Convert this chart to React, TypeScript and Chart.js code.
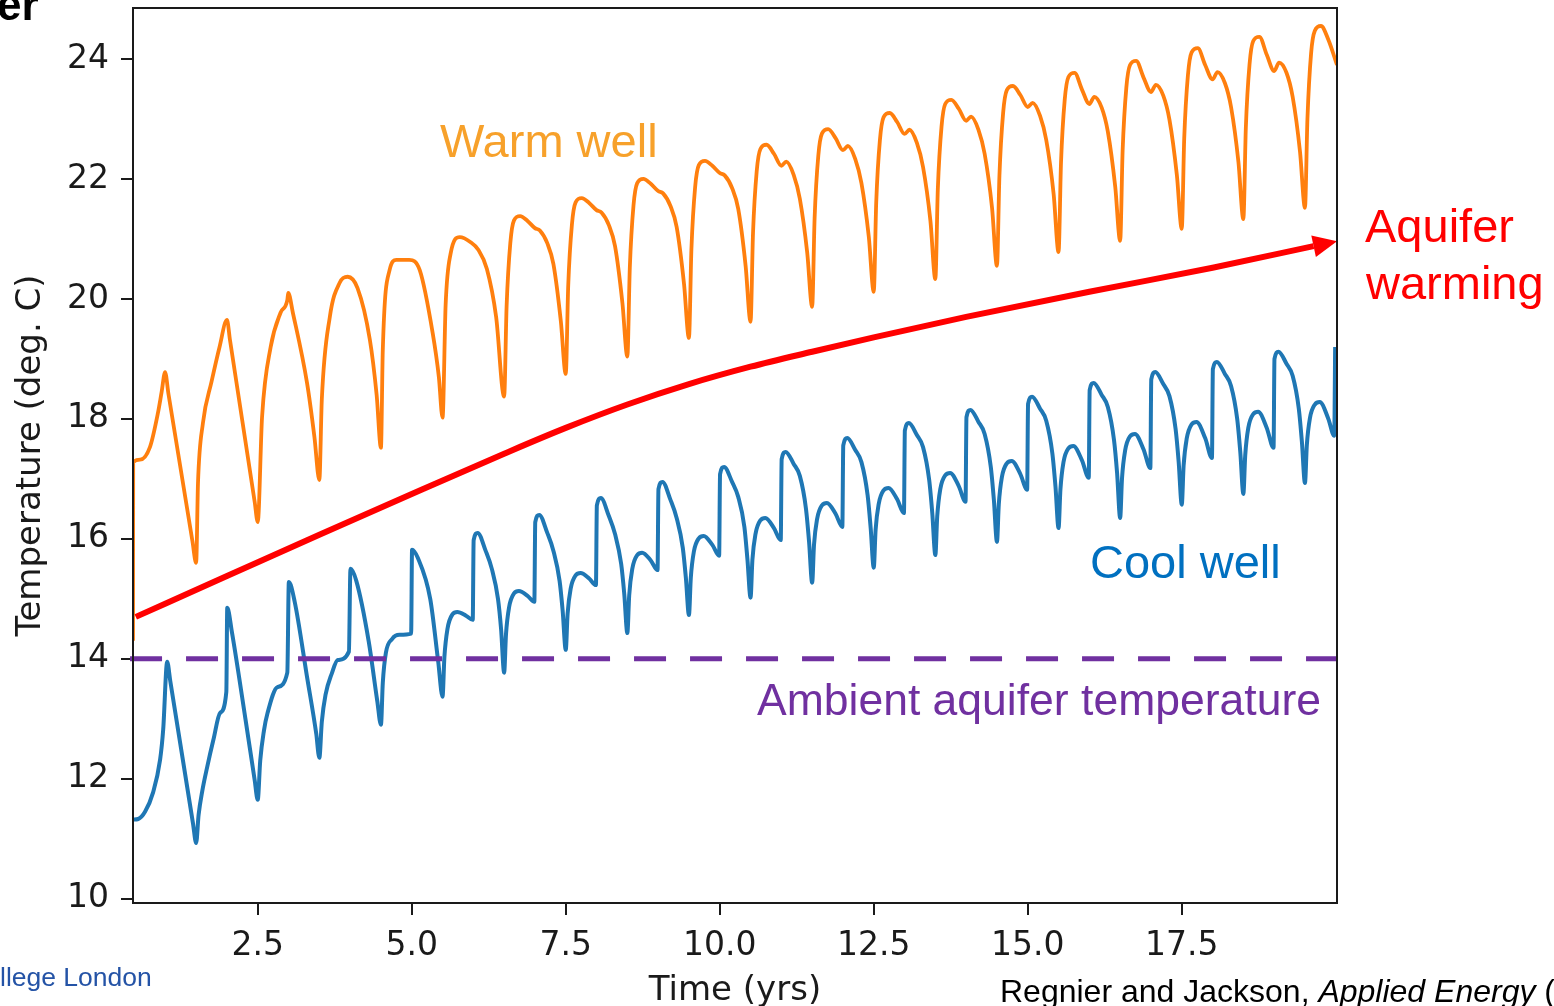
import React, { useEffect, useRef } from "react";
import { Chart, registerables } from "chart.js";

Chart.register(...registerables);

// ---------- data ----------
const xTicks = [2.5, 5, 7.5, 10, 12.5, 15, 17.5];
const yTicks = [10, 12, 14, 16, 18, 20, 22, 24];

const xTitle = "Time (yrs)";
const yTitle = "Temperature (deg. C)";

// Warm well temperature [year, deg C]
const warmWell: [number, number][] = [
  [0.475, 14.3], [0.478, 17.28], [0.59, 17.32], [0.75, 17.53], [0.88, 18.1], [0.94, 18.45], [0.996, 18.78],
  [1.05, 18.42], [1.44, 15.96], [1.5, 15.6],
  [1.53, 16.93], [1.61, 17.93], [1.75, 18.62], [1.88, 19.2], [2.0, 19.65],
  [2.05, 19.31], [2.45, 16.62], [2.5, 16.28],
  [2.57, 18.03], [2.71, 19.2], [2.87, 19.77], [2.98, 19.98], [2.995, 20.1], [3.07, 19.77], [3.3, 18.6], [3.42, 17.7], [3.5, 16.98],
  [3.54, 18.32], [3.67, 19.7], [3.83, 20.27], [3.96, 20.37], [4.12, 20.18], [4.32, 19.32], [4.43, 18.4], [4.5, 17.52],
  [4.53, 19.15], [4.64, 20.48], [4.75, 20.65], [4.96, 20.65], [5.13, 20.48], [5.34, 19.43], [5.44, 18.7], [5.5, 18.02],
  [5.55, 19.9], [5.63, 20.75], [5.78, 21.03], [5.95, 20.95], [6.08, 20.82], [6.22, 20.5], [6.37, 19.7],
  [6.5, 18.37], [6.54, 19.88], [6.6, 20.93], [6.66, 21.31], [6.76, 21.38], [6.88, 21.3], [7.0, 21.18], [7.08, 21.14], [7.2, 20.93], [7.3, 20.58], [7.42, 19.63],
  [7.5, 18.75], [7.54, 20.22], [7.6, 21.24], [7.66, 21.61], [7.76, 21.68], [7.88, 21.6], [8.0, 21.48], [8.08, 21.44], [8.2, 21.23], [8.3, 20.88], [8.42, 19.93],
  [8.5, 19.04], [8.54, 20.52], [8.6, 21.56], [8.66, 21.93], [8.76, 22.0], [8.88, 21.92], [9.0, 21.8], [9.08, 21.76], [9.2, 21.55], [9.3, 21.2], [9.42, 20.25],
  [9.5, 19.35], [9.54, 20.83], [9.6, 21.86], [9.66, 22.23], [9.76, 22.3], [9.88, 22.22], [10.0, 22.1], [10.08, 22.06], [10.2, 21.85], [10.3, 21.5], [10.42, 20.55],
  [10.5, 19.62], [10.54, 21.1], [10.6, 22.13], [10.66, 22.5], [10.76, 22.57], [10.88, 22.42], [11.0, 22.22], [11.08, 22.29], [11.2, 22.07], [11.3, 21.67], [11.42, 20.77],
  [11.5, 19.87], [11.54, 21.35], [11.6, 22.39], [11.66, 22.76], [11.76, 22.83], [11.88, 22.68], [12.0, 22.48], [12.08, 22.55], [12.2, 22.33], [12.3, 21.93], [12.42, 21.03],
  [12.5, 20.12], [12.54, 21.61], [12.6, 22.65], [12.66, 23.03], [12.76, 23.1], [12.88, 22.95], [13.0, 22.75], [13.08, 22.82], [13.2, 22.6], [13.3, 22.2], [13.42, 21.3],
  [13.5, 20.33], [13.54, 21.83], [13.6, 22.87], [13.66, 23.25], [13.76, 23.32], [13.88, 23.17], [14.0, 22.97], [14.08, 23.04], [14.2, 22.82], [14.3, 22.42], [14.42, 21.52],
  [14.5, 20.55], [14.54, 22.05], [14.6, 23.1], [14.66, 23.48], [14.76, 23.55], [14.88, 23.4], [15.0, 23.2], [15.08, 23.27], [15.2, 23.05], [15.3, 22.65], [15.42, 21.75],
  [15.5, 20.78], [15.54, 22.28], [15.6, 23.32], [15.66, 23.7], [15.76, 23.77], [15.88, 23.49], [16.0, 23.25], [16.08, 23.37], [16.2, 23.19], [16.3, 22.79], [16.42, 21.87],
  [16.5, 20.97], [16.54, 22.47], [16.6, 23.52], [16.66, 23.9], [16.76, 23.97], [16.88, 23.69], [17.0, 23.45], [17.08, 23.57], [17.2, 23.39], [17.3, 22.99], [17.42, 22.07],
  [17.5, 21.17], [17.54, 22.68], [17.6, 23.73], [17.66, 24.11], [17.76, 24.18], [17.88, 23.9], [18.0, 23.66], [18.08, 23.78], [18.2, 23.6], [18.3, 23.2], [18.42, 22.28],
  [18.5, 21.33], [18.54, 22.85], [18.6, 23.91], [18.66, 24.3], [18.76, 24.37], [18.88, 24.07], [19.0, 23.8], [19.08, 23.94], [19.2, 23.77], [19.3, 23.37], [19.42, 22.45],
  [19.5, 21.52], [19.54, 23.0], [19.6, 24.1], [19.66, 24.47], [19.76, 24.55], [19.88, 24.32], [20.02, 23.9],
];

// Cool well temperature [year, deg C]
const coolWell: [number, number][] = [
  [0.475, 11.32], [0.56, 11.33], [0.67, 11.45], [0.8, 11.77], [0.915, 12.32], [0.965, 12.82], [1.03, 13.95],
  [1.08, 13.63], [1.45, 11.25], [1.5, 10.93],
  [1.54, 11.4], [1.6, 11.8], [1.68, 12.2], [1.78, 12.65], [1.89, 13.1], [1.99, 13.45], [2.005, 14.85],
  [2.08, 14.45], [2.3, 13.0], [2.45, 11.98], [2.5, 11.65],
  [2.54, 12.3], [2.6, 12.8], [2.66, 13.1], [2.82, 13.53], [2.98, 13.77], [3.005, 15.28],
  [3.1, 14.95], [3.3, 13.7], [3.45, 12.75], [3.5, 12.35],
  [3.54, 12.95], [3.6, 13.4], [3.7, 13.75], [3.8, 13.98], [3.98, 14.12], [4.005, 15.5],
  [4.1, 15.3], [4.3, 14.3], [4.44, 13.3], [4.5, 12.9],
  [4.53, 13.6], [4.58, 14.1], [4.68, 14.33], [4.8, 14.4], [4.99, 14.42], [5.005, 15.82],
  [5.1, 15.68], [5.3, 15.0], [5.43, 13.95],
  [5.5, 13.37], [5.53, 14.03], [5.58, 14.5], [5.66, 14.74], [5.74, 14.78], [5.88, 14.72], [5.99, 14.65], [6.005, 15.98], [6.07, 16.1], [6.2, 15.8], [6.3, 15.5], [6.4, 15.0], [6.45, 14.5],
  [6.5, 13.77], [6.53, 14.41], [6.58, 14.86], [6.66, 15.09], [6.74, 15.13], [6.88, 15.05], [6.99, 14.95], [7.005, 16.28], [7.07, 16.4], [7.2, 16.1], [7.3, 15.8], [7.4, 15.3], [7.45, 14.8],
  [7.5, 14.15], [7.53, 14.75], [7.58, 15.17], [7.66, 15.39], [7.74, 15.43], [7.88, 15.34], [7.99, 15.23], [8.005, 16.56], [8.07, 16.68], [8.2, 16.38], [8.3, 16.08], [8.4, 15.58], [8.45, 15.08],
  [8.5, 14.43], [8.53, 15.06], [8.58, 15.5], [8.66, 15.73], [8.74, 15.77], [8.88, 15.64], [8.99, 15.48], [9.005, 16.83], [9.07, 16.95], [9.2, 16.65], [9.3, 16.35], [9.4, 15.85], [9.45, 15.35],
  [9.5, 14.73], [9.53, 15.35], [9.58, 15.79], [9.66, 16.01], [9.74, 16.05], [9.88, 15.9], [9.99, 15.72], [10.005, 17.08], [10.07, 17.2], [10.2, 16.95], [10.3, 16.7], [10.4, 16.2], [10.45, 15.65],
  [10.5, 15.02], [10.53, 15.65], [10.58, 16.08], [10.66, 16.31], [10.74, 16.35], [10.88, 16.18], [10.99, 15.98], [11.005, 17.33], [11.07, 17.45], [11.2, 17.25], [11.3, 17.05], [11.4, 16.5], [11.45, 15.95],
  [11.5, 15.27], [11.53, 15.9], [11.58, 16.33], [11.66, 16.56], [11.74, 16.6], [11.88, 16.42], [11.99, 16.2], [12.005, 17.56], [12.07, 17.68], [12.2, 17.48], [12.3, 17.28], [12.4, 16.73], [12.45, 16.18],
  [12.5, 15.52], [12.53, 16.15], [12.58, 16.58], [12.66, 16.81], [12.74, 16.85], [12.88, 16.66], [12.99, 16.43], [13.005, 17.81], [13.07, 17.93], [13.2, 17.73], [13.3, 17.53], [13.4, 16.98], [13.45, 16.43],
  [13.5, 15.73], [13.53, 16.37], [13.58, 16.83], [13.66, 17.06], [13.74, 17.1], [13.88, 16.88], [13.99, 16.62], [14.005, 18.03], [14.07, 18.15], [14.2, 17.95], [14.3, 17.75], [14.4, 17.2], [14.45, 16.65],
  [14.5, 15.95], [14.53, 16.58], [14.58, 17.03], [14.66, 17.26], [14.74, 17.3], [14.88, 17.08], [14.99, 16.82], [15.005, 18.25], [15.07, 18.37], [15.2, 18.17], [15.3, 17.97], [15.4, 17.42], [15.45, 16.87],
  [15.5, 16.18], [15.53, 16.82], [15.58, 17.28], [15.66, 17.51], [15.74, 17.55], [15.88, 17.31], [15.99, 17.02], [16.005, 18.48], [16.07, 18.6], [16.2, 18.4], [16.3, 18.2], [16.4, 17.65], [16.45, 17.1],
  [16.5, 16.35], [16.53, 17.01], [16.58, 17.47], [16.66, 17.71], [16.74, 17.75], [16.88, 17.49], [16.99, 17.18], [17.005, 18.66], [17.07, 18.78], [17.2, 18.58], [17.3, 18.38], [17.4, 17.83], [17.45, 17.28],
  [17.5, 16.57], [17.53, 17.22], [17.58, 17.67], [17.66, 17.91], [17.74, 17.95], [17.88, 17.68], [17.99, 17.35], [18.005, 18.83], [18.07, 18.95], [18.2, 18.75], [18.3, 18.55], [18.4, 18.0], [18.45, 17.45],
  [18.5, 16.75], [18.53, 17.39], [18.58, 17.85], [18.66, 18.08], [18.74, 18.12], [18.88, 17.85], [18.99, 17.52], [19.005, 19.0], [19.07, 19.12], [19.2, 18.92], [19.3, 18.72], [19.4, 18.17], [19.45, 17.62],
  [19.5, 16.93], [19.53, 17.56], [19.58, 18.01], [19.66, 18.24], [19.74, 18.28], [19.88, 18.0], [19.975, 17.72], [19.99, 19.2],
];

// Red "aquifer warming" trend arrow [year, deg C]
const aquiferWarming: [number, number][] = [
  [0.52, 14.7], [2.0, 15.38], [3.5, 16.07], [5.0, 16.75], [6.5, 17.42], [7.5, 17.85], [8.5, 18.24],
  [9.5, 18.58], [10.5, 18.87], [11.5, 19.12], [12.5, 19.36], [14.0, 19.7], [16.0, 20.12], [18.0, 20.52], [19.64, 20.88],
];

// Ambient aquifer temperature
const ambientLevel: [number, number][] = [[0.427, 14], [20.02, 14]];

const warmLabel = "Warm well";
const coolLabel = "Cool well";
const ambientLabel = "Ambient aquifer temperature";
const aquiferLabel = ["Aquifer", "warming"];

// ---------- chart ----------
const SANS = '"Liberation Sans", Arial, Helvetica, sans-serif';
const DEJAVU = '"DejaVu Sans", sans-serif';

const annotations = {
  id: "annotations",
  afterDatasetsDraw(chart: any) {
    const ctx = chart.ctx;
    const pts = chart.getDatasetMeta(0).data;
    const a = pts[pts.length - 2];
    const b = pts[pts.length - 1];
    const ang = Math.atan2(b.y - a.y, b.x - a.x);
    const len = 24;
    const half = 11;
    const tipX = b.x + Math.cos(ang) * len;
    const tipY = b.y + Math.sin(ang) * len;
    ctx.save();
    ctx.fillStyle = "#ff0000";
    ctx.beginPath();
    ctx.moveTo(tipX, tipY);
    ctx.lineTo(b.x - Math.sin(ang) * half, b.y + Math.cos(ang) * half);
    ctx.lineTo(b.x + Math.sin(ang) * half, b.y - Math.cos(ang) * half);
    ctx.closePath();
    ctx.fill();
    ctx.restore();
  },
  afterDraw(chart: any) {
    const ctx = chart.ctx;
    const area = chart.chartArea;
    ctx.save();
    // frame
    ctx.strokeStyle = "#1a1a1a";
    ctx.lineWidth = 2;
    ctx.strokeRect(area.left, area.top, area.right - area.left, area.bottom - area.top);

    ctx.textAlign = "left";
    ctx.textBaseline = "alphabetic";

    ctx.font = `47px ${SANS}`;
    ctx.fillStyle = "#f7a12b";
    ctx.fillText(warmLabel, 440, 157);

    ctx.fillStyle = "#0070c0";
    ctx.fillText(coolLabel, 1090, 578);

    ctx.font = `44.5px ${SANS}`;
    ctx.fillStyle = "#7030a0";
    ctx.fillText(ambientLabel, 757, 715);

    ctx.font = `47px ${SANS}`;
    ctx.fillStyle = "#ff0000";
    ctx.fillText(aquiferLabel[0], 1365, 242);
    ctx.fillText(aquiferLabel[1], 1366, 299);

    // axis titles
    ctx.fillStyle = "#1a1a1a";
    ctx.font = `34px ${DEJAVU}`;
    ctx.textAlign = "center";
    ctx.fillText(xTitle, (area.left + area.right) / 2, 1000);
    ctx.save();
    ctx.translate(31, (area.top + area.bottom) / 2);
    ctx.rotate(-Math.PI / 2);
    ctx.textBaseline = "middle";
    ctx.fillText(yTitle, 0, 0);
    ctx.restore();

    // slide remnants
    ctx.textAlign = "left";
    ctx.font = `bold 44px ${SANS}`;
    ctx.fillStyle = "#000";
    ctx.fillText("er", -3, 20);

    ctx.font = `26.5px ${SANS}`;
    ctx.fillStyle = "#2453a6";
    ctx.fillText("llege London", 0, 986);

    ctx.font = `32px ${SANS}`;
    ctx.fillStyle = "#000";
    const p1 = "Regnier and Jackson, ";
    ctx.fillText(p1, 1000, 1002);
    let x = 1000 + ctx.measureText(p1).width;
    ctx.font = `italic 32px ${SANS}`;
    const p2 = "Applied Energy";
    ctx.fillText(p2, x, 1002);
    x += ctx.measureText(p2).width;
    ctx.font = `32px ${SANS}`;
    ctx.fillText(" (", x, 1002);
    ctx.restore();
  },
};

const toXY = (arr: [number, number][]) => arr.map(([x, y]) => ({ x, y }));

export default function App() {
  const ref = useRef<HTMLCanvasElement | null>(null);

  useEffect(() => {
    const canvas = ref.current;
    if (!canvas) return;
    const tickFont = { family: "DejaVu Sans", size: 33 };
    const grid = {
      drawOnChartArea: false,
      drawTicks: true,
      tickLength: 12,
      color: "#1a1a1a",
      lineWidth: 2,
    };
    const chart = new Chart(canvas, {
      type: "line",
      data: {
        datasets: [
          {
            data: toXY(aquiferWarming),
            borderColor: "#ff0000",
            borderWidth: 6,
            pointRadius: 0,
            cubicInterpolationMode: "monotone",
            fill: false,
          },
          {
            data: toXY(ambientLevel),
            borderColor: "#7030a0",
            borderWidth: 5,
            borderDash: [32, 24],
            pointRadius: 0,
            fill: false,
            clip: false,
          },
          {
            data: toXY(coolWell),
            borderColor: "#1f77b4",
            borderWidth: 4,
            pointRadius: 0,
            cubicInterpolationMode: "monotone",
            borderJoinStyle: "round",
            fill: false,
          },
          {
            data: toXY(warmWell),
            borderColor: "#ff7f0e",
            borderWidth: 3.8,
            pointRadius: 0,
            cubicInterpolationMode: "monotone",
            borderJoinStyle: "round",
            fill: false,
          },
        ],
      } as any,
      options: {
        responsive: false,
        animation: false,
        events: [],
        layout: { padding: { left: 0, top: 8, right: 217, bottom: 0 } },
        plugins: { legend: { display: false }, tooltip: { enabled: false } },
        scales: {
          x: {
            type: "linear",
            min: 0.475,
            max: 20.02,
            afterBuildTicks: (s: any) => {
              s.ticks = xTicks.map((v) => ({ value: v }));
            },
            afterFit: (s: any) => {
              s.height = 103;
              s.paddingLeft = 0;
              s.paddingRight = 0;
            },
            grid,
            border: { display: false },
            ticks: {
              font: tickFont,
              color: "#1a1a1a",
              padding: 12,
              autoSkip: false,
              maxRotation: 0,
              callback: (v: any) => Number(v).toFixed(1),
            },
          },
          y: {
            type: "linear",
            min: 9.93,
            max: 24.85,
            afterBuildTicks: (s: any) => {
              s.ticks = yTicks.map((v) => ({ value: v }));
            },
            afterFit: (s: any) => {
              s.width = 133;
              s.paddingTop = 0;
              s.paddingBottom = 0;
            },
            grid,
            border: { display: false },
            ticks: {
              font: tickFont,
              color: "#1a1a1a",
              padding: 12,
              autoSkip: false,
              callback: (v: any) => String(v),
            },
          },
        },
      } as any,
      plugins: [annotations],
    });
    return () => chart.destroy();
  }, []);

  return (
    <div style={{ position: "fixed", left: 0, top: 0, width: 1554, height: 1006, background: "#fff" }}>
      <canvas ref={ref} width={1554} height={1006} style={{ display: "block" }} />
    </div>
  );
}
